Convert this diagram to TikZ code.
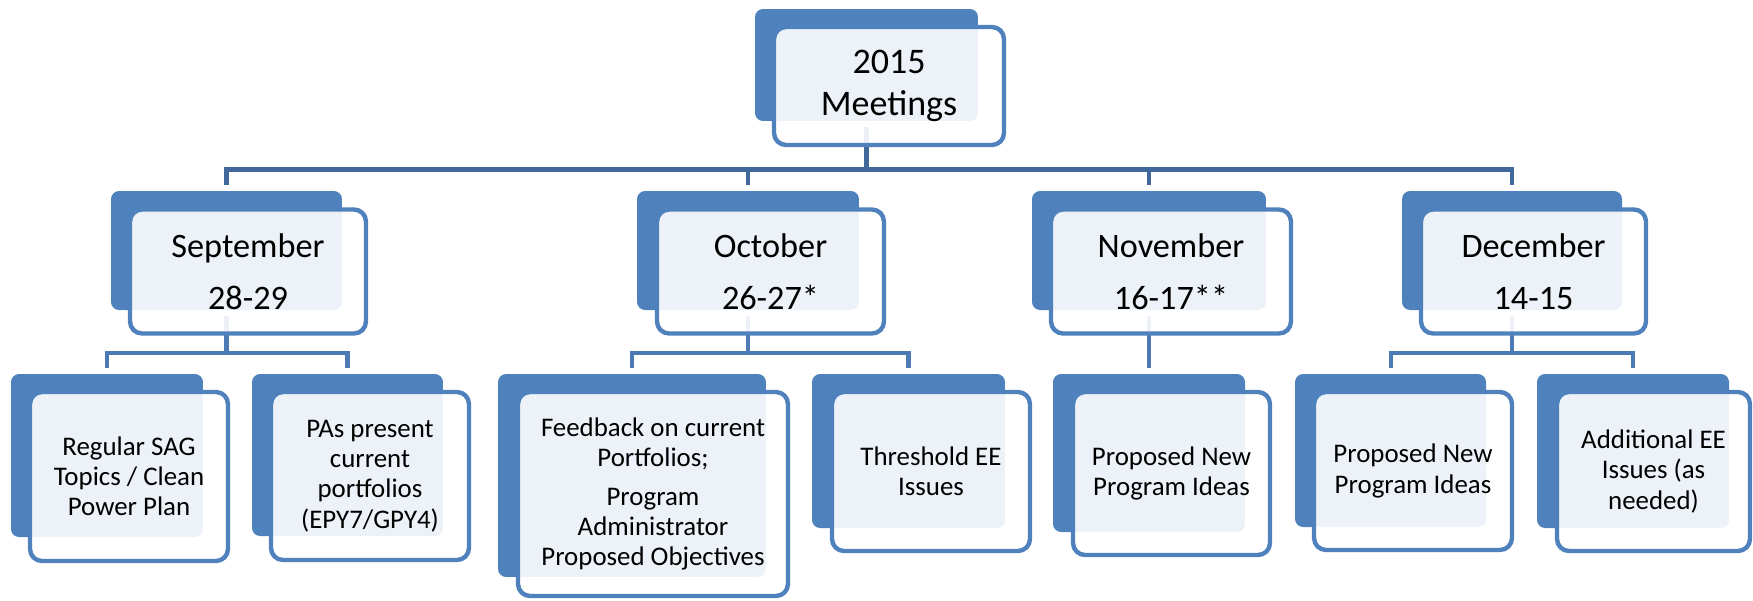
\documentclass[tikz,border=0pt]{standalone}
\usepackage{fontspec}
\setmainfont{Carlito}
\definecolor{boxblue}{RGB}{79,129,189}
\definecolor{lineblue}{RGB}{64,104,154}
\definecolor{sublineblue}{RGB}{75,122,180}

\begin{document}
\begin{tikzpicture}[x=0.02cm, y=-0.02cm,
    back/.style={rectangle, rounded corners=0.16cm, fill=boxblue, inner sep=0pt},
    front/.style={rectangle, rounded corners=0.24cm, draw=boxblue, line width=2.5pt, fill=white, fill opacity=0.9, text opacity=1, inner sep=0pt, align=center},
    lvlone/.style={draw=lineblue, line width=2.8pt, shorten <=0.12cm, shorten >=0.12cm},
    lvltwo/.style={draw=sublineblue, line width=2.3pt, shorten <=0.12cm, shorten >=0.12cm},
    toptext/.style={font=\fontsize{20.5}{23.9}\selectfont},
    montext/.style={font=\fontsize{19.5}{29.6}\selectfont},
    itemtext/.style={font=\fontsize{15.3}{17.2}\selectfont}]
    \useasboundingbox (0,0) rectangle (1753,600);

    % Back boxes
    \node[back, minimum width=4.46cm, minimum height=2.24cm] (topbg) at (866.5,65) {};
    \node[back, minimum width=4.62cm, minimum height=2.38cm] (sepbg) at (226.5,250.5) {};
    \node[back, minimum width=4.44cm, minimum height=2.38cm] (octbg) at (748,250.5) {};
    \node[back, minimum width=4.68cm, minimum height=2.38cm] (novbg) at (1149,250.5) {};
    \node[back, minimum width=4.4cm, minimum height=2.38cm] (decbg) at (1512,250.5) {};
    \node[back, minimum width=3.84cm, minimum height=3.26cm] (sagbg) at (107,455.5) {};
    \node[back, minimum width=3.82cm, minimum height=3.24cm] (pasbg) at (347.5,455) {};
    \node[back, minimum width=5.36cm, minimum height=4.06cm] (fdbkbg) at (632,475.5) {};
    \node[back, minimum width=3.86cm, minimum height=3.08cm] (thrbg) at (908.5,451) {};
    \node[back, minimum width=3.84cm, minimum height=3.16cm] (novideasbg) at (1149,453) {};
    \node[back, minimum width=3.82cm, minimum height=3.06cm] (decideasbg) at (1390.5,450.5) {};
    \node[back, minimum width=3.84cm, minimum height=3.08cm] (addbg) at (1633,451) {};

    % Connectors
    \foreach \m in {sepbg,octbg,novbg,decbg}
        \draw[lvlone] (topbg.south) -- ++(0,48) -| (\m.north);
    \foreach \c in {sagbg,pasbg}
        \draw[lvltwo] (sepbg.south) -- ++(0,43) -| (\c.north);
    \foreach \c in {fdbkbg,thrbg}
        \draw[lvltwo] (octbg.south) -- ++(0,43) -| (\c.north);
    \draw[lvltwo] (novbg.south) -- (novideasbg.north);
    \foreach \c in {decideasbg,addbg}
        \draw[lvltwo] (decbg.south) -- ++(0,43) -| (\c.north);

    % Front boxes
    \node[front, toptext, minimum width=4.6cm, minimum height=2.36cm] (top) at (889,86) {2015\\Meetings};
    \node[front, montext, minimum width=4.72cm, minimum height=2.48cm] (sep) at (248,271.5) {September\\28-29};
    \node[front, montext, minimum width=4.54cm, minimum height=2.48cm] (oct) at (770.5,271.5) {October\\26-27*};
    \node[front, montext, minimum width=4.8cm, minimum height=2.48cm] (nov) at (1171,271.5) {November\\16-17**};
    \node[front, montext, minimum width=4.5cm, minimum height=2.48cm] (dec) at (1533.5,271.5) {December\\14-15};
    \node[front, itemtext, minimum width=3.96cm, minimum height=3.38cm] (sag) at (129,476.5) {Regular SAG\\Topics / Clean\\Power Plan};
    \node[front, itemtext, minimum width=3.96cm, minimum height=3.36cm] (pas) at (370,476) {PAs present\\current\\portfolios\\(EPY7/GPY4)};
    \node[front, itemtext, minimum width=5.4cm, minimum height=4.08cm] (fdbk) at (653,494) {Feedback on current\\Portfolios;\\[5pt]Program\\Administrator\\Proposed Objectives};
    \node[front, itemtext, minimum width=3.96cm, minimum height=3.18cm] (thr) at (931,471.5) {Threshold EE\\Issues};
    \node[front, itemtext, minimum width=3.94cm, minimum height=3.26cm] (novideas) at (1171.5,473.5) {Proposed New\\Program Ideas};
    \node[front, itemtext, minimum width=3.96cm, minimum height=3.16cm] (decideas) at (1413,471) {Proposed New\\Program Ideas};
    \node[front, itemtext, minimum width=3.86cm, minimum height=3.18cm] (add) at (1653.5,471.5) {Additional EE\\Issues (as\\needed)};
\end{tikzpicture}
\end{document}
